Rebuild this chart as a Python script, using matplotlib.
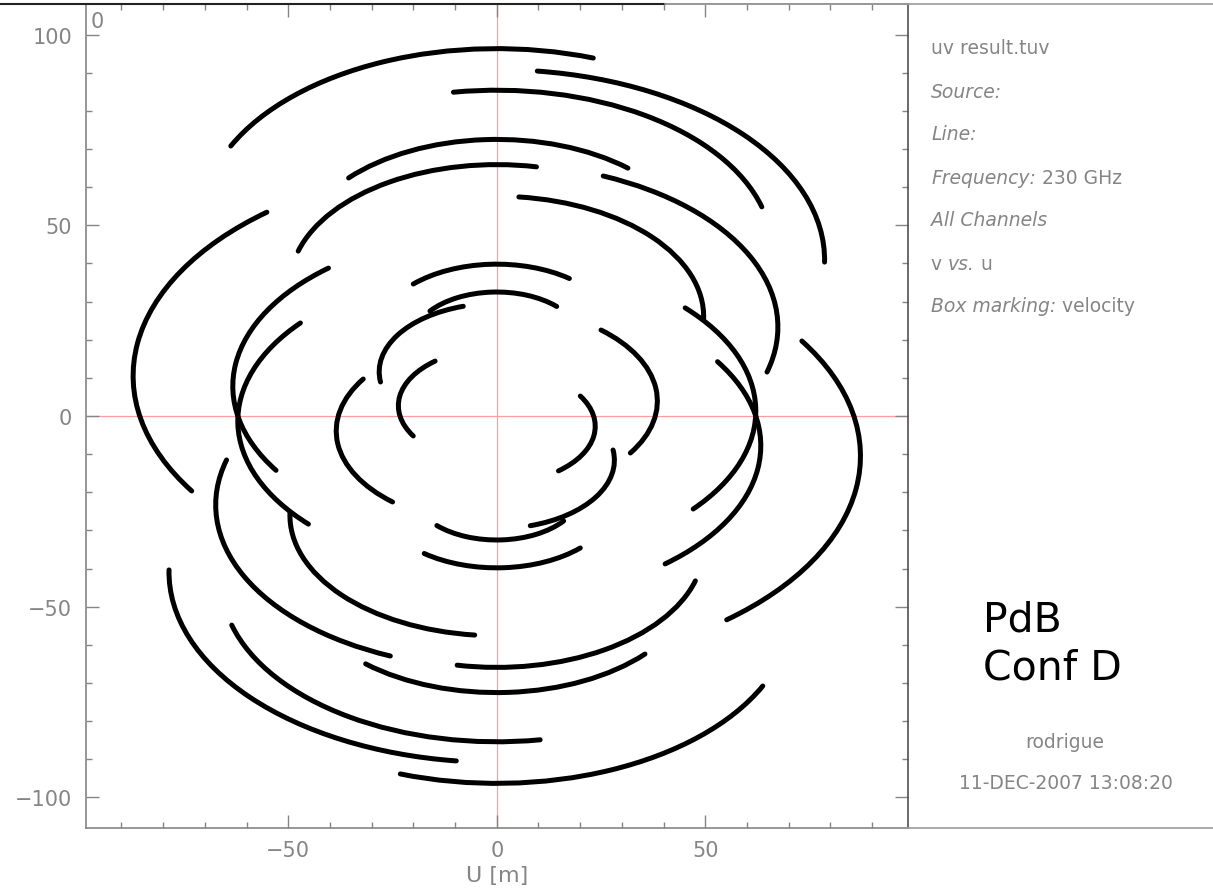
import matplotlib
matplotlib.use("Agg")
import matplotlib.pyplot as plt
from matplotlib.patches import Arc
from matplotlib.lines import Line2D
from matplotlib.ticker import MultipleLocator

# uv tracks, one entry per baseline (the conjugate track is the same arc
# mirrored through the origin). a/b = semi-axes in u/v [m], v0 = centre in v,
# theta1/theta2 = start/end angle of the visible arc [deg]
track_a = [70.7, 78.6, 66.0, 47.6, 49.6, 67.4, 49.6, 28.6, 28.2, 20.3, 38.5, 23.6, 87.2, 63.3, 62.1]
track_b = [44.9, 49.9, 41.9, 30.2, 31.5, 42.8, 31.5, 18.2, 17.9, 12.9, 24.5, 15.0, 55.4, 40.2, 39.4]
track_v0 = [51.4, 40.9, 43.5, 42.3, 34.4, 23.3, 26.1, 21.6, 11.6, 19.6, -3.9, 2.7, 10.5, 7.8, -1.3]
theta1 = [61.4, -0.4, 10.1, 35.8, 72.9, -10.3, -0.8, 39.7, 115.1, 32.4, 157.0, 141.7, 142.1, 142.5, 151.4]
theta2 = [163.1, 78.9, 104.1, 150.5, 169.5, 57.2, 80.4, 147.0, 185.5, 153.7, 216.7, 201.6, 202.4, 202.6, 210.9]

# header block: (text, italic) pieces per line
info_rows = [
    [("uv result.tuv", False)],
    [("Source:", True)],
    [("Line:", True)],
    [("Frequency:", True), (" 230 GHz", False)],
    [("All Channels", True)],
    [("v ", False), ("vs.", True), (" u", False)],
    [("Box marking:", True), (" velocity", False)],
]
user_name = "rodrigue"
date_str = "11-DEC-2007 13:08:20"
config_lines = ["PdB", "Conf D"]

GRAY = "#858585"
W, H = 1213, 895

fig = plt.figure(figsize=(W / 100, H / 100), dpi=100)
ax = fig.add_axes([86 / W, 66 / H, 822 / W, 824 / H])

ax.axhline(0, color="#ff9c9c", lw=0.9, zorder=1)
ax.axvline(0, color="#ff9c9c", lw=0.9, zorder=1)

for a, b, v0, t1, t2 in zip(track_a, track_b, track_v0, theta1, theta2):
    for sign, off in ((1, 0), (-1, 180)):
        arc = Arc((0, sign * v0), 2 * a, 2 * b, theta1=t1 + off, theta2=t2 + off,
                  lw=3.6, color="black", capstyle="round", zorder=3)
        ax.add_patch(arc)

ax.set_xlim(-98.5, 98.6)
ax.set_ylim(-108, 108)
ax.xaxis.set_major_locator(MultipleLocator(50))
ax.xaxis.set_minor_locator(MultipleLocator(10))
ax.yaxis.set_major_locator(MultipleLocator(50))
ax.yaxis.set_minor_locator(MultipleLocator(10))
ax.tick_params(which="both", direction="in", top=True, right=True,
               color=GRAY, width=1.0, labelcolor=GRAY, labelsize=15)
ax.tick_params(which="major", length=9.5)
ax.tick_params(which="minor", length=4.5)
ax.tick_params(axis="y", pad=10)
ax.tick_params(axis="x", pad=9)
for name, sp in ax.spines.items():
    sp.set_color(GRAY)
    sp.set_linewidth(1.2)
ax.spines["right"].set_color("#505050")

ax.set_xlabel("U [m]", color=GRAY, fontsize=16)
ax.xaxis.set_label_coords(0.5, -0.045)
ax.text(0.0134, 0.979, "0", transform=ax.transAxes, color=GRAY, fontsize=15,
        ha="center", va="center")

# frame lines outside the axes
fig.add_artist(Line2D([0, 665 / W], [1 - 5 / H, 1 - 5 / H], color="#222222", lw=1.5))
fig.add_artist(Line2D([665 / W, 1], [1 - 5 / H, 1 - 5 / H], color="#9a9a9a", lw=1.2))
fig.add_artist(Line2D([908 / W, 1], [66 / H, 66 / H], color="#9a9a9a", lw=1.2))

# info panel
y_px = 49
for row in info_rows:
    prev = None
    for txt, ital in row:
        style = "italic" if ital else "normal"
        if prev is None:
            prev = fig.text(931 / W, 1 - y_px / H, txt, color=GRAY, fontsize=13.5,
                            style=style, ha="left", va="center")
        else:
            prev = ax.annotate(txt, xy=(1, 0), xycoords=prev, color=GRAY,
                               fontsize=13.5, style=style, ha="left", va="bottom")
    y_px += 43

fig.text(1065 / W, 1 - 743 / H, user_name, color=GRAY, fontsize=13.5,
         ha="center", va="center")
fig.text(1066 / W, 1 - 784 / H, date_str, color=GRAY, fontsize=13.5,
         ha="center", va="center")

fig.text(983 / W, 1 - 632 / H, config_lines[0], color="black", fontsize=29.5,
         ha="left", va="baseline")
fig.text(983 / W, 1 - 680 / H, config_lines[1], color="black", fontsize=29.5,
         ha="left", va="baseline")

fig.savefig("out.png", dpi=100)
